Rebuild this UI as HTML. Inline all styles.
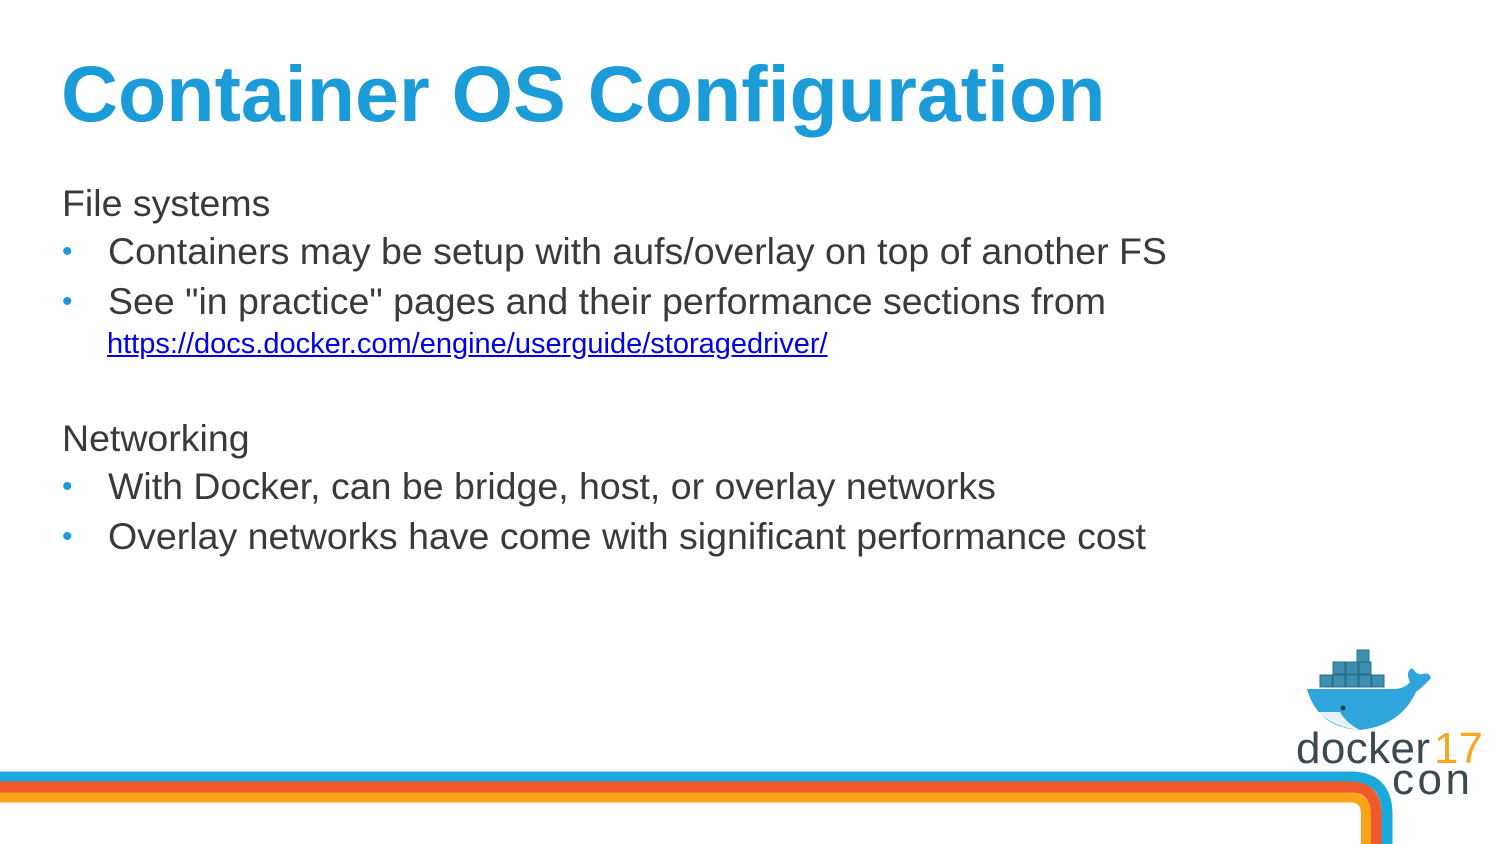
<!DOCTYPE html>
<html><head><style>
body{margin:0;width:1500px;height:844px;background:#fff;position:relative;overflow:hidden;font-family:"Liberation Sans",sans-serif}
.t{position:absolute;white-space:nowrap}
h1{position:absolute;left:61px;top:48px;margin:0;font-size:79px;font-weight:bold;color:#1b9bd7;white-space:nowrap}
.b{font-size:37.5px;color:#3a3a3a}
.dot{position:absolute;color:#1b9bd7;font-size:30px}
a{color:#0000ee;font-size:29px;text-decoration:underline}
</style></head><body>
<h1>Container OS Configuration</h1>
<div class="t b" style="left:62px;top:182px">File systems</div>
<div class="t dot" style="left:62px;top:235px">•</div>
<div class="t b" style="left:108px;top:230px">Containers may be setup with aufs/overlay on top of another FS</div>
<div class="t dot" style="left:62px;top:285px">•</div>
<div class="t b" style="left:108px;top:280px">See "in practice" pages and their performance sections from</div>
<div class="t" style="left:107px;top:328px"><a>https://docs.docker.com/engine/userguide/storagedriver/</a></div>
<div class="t b" style="left:62px;top:417px">Networking</div>
<div class="t dot" style="left:62px;top:470px">•</div>
<div class="t b" style="left:108px;top:465px">With Docker, can be bridge, host, or overlay networks</div>
<div class="t dot" style="left:62px;top:520px">•</div>
<div class="t b" style="left:108px;top:515px">Overlay networks have come with significant performance cost</div>
<svg width="1500" height="844" style="position:absolute;left:0;top:0">
<path d="M0 777 H1350 Q1387 777 1387 814 V844" fill="none" stroke="#1ba8dc" stroke-width="11"/>
<path d="M0 787 H1350 Q1376 787 1376 814 V844" fill="none" stroke="#f0592a" stroke-width="11"/>
<path d="M0 797.5 H1350 Q1366 797.5 1366 814 V844" fill="none" stroke="#f9a51a" stroke-width="10"/>
<g fill="#3d8fb0" stroke="#2a6f8a" stroke-width="1">
<rect x="1320" y="675" width="12" height="12"/><rect x="1333" y="675" width="12" height="12"/><rect x="1346" y="675" width="12" height="12"/><rect x="1359" y="675" width="12" height="12"/><rect x="1372" y="675" width="12" height="12"/>
<rect x="1333" y="662" width="12" height="12"/><rect x="1346" y="662" width="12" height="12"/><rect x="1359" y="662" width="12" height="12"/>
<rect x="1357" y="650" width="12" height="12"/>
</g>
<path d="M1307 689 H1392 Q1405 689 1410 682 Q1405 672 1412 668 Q1418 676 1422 674 Q1430 672 1431 678 Q1424 686 1416 692 Q1400 726 1360 730 Q1318 728 1307 689 Z" fill="#2fa5dc"/>
<path d="M1318 712 Q1335 728 1360 730 Q1345 722 1340 712 Z" fill="#e6f2f8"/>
<circle cx="1343" cy="708" r="2.5" fill="#1c3d4f"/>
<text x="1296" y="763" font-family="Liberation Sans" font-size="44" fill="#394a53" textLength="134">docker</text>
<text x="1434" y="763" font-family="Liberation Sans" font-size="44" fill="#f7a823">17</text>
<text x="1392" y="794" font-family="Liberation Sans" font-size="44" fill="#394a53" textLength="78">con</text>
</svg>
</body></html>
